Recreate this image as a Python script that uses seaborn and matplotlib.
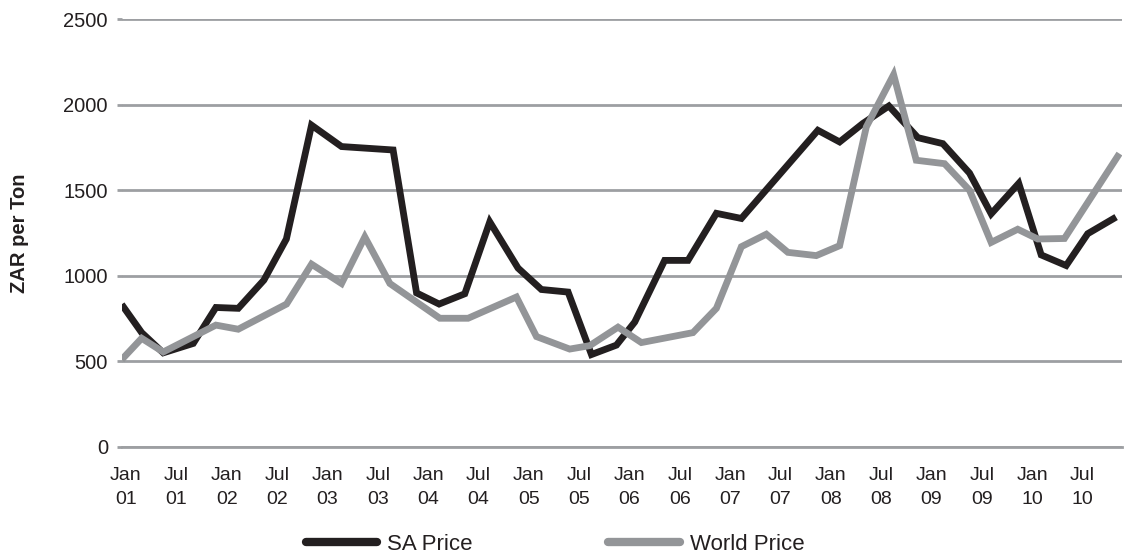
import matplotlib
matplotlib.use("Agg")
import matplotlib.pyplot as plt
from matplotlib.lines import Line2D
import numpy as np
import pandas as pd
import seaborn as sns

# Observation dates (decimal years) and prices, ZAR per ton
sa_dates = [2000.957, 2001.156, 2001.370, 2001.668, 2001.893, 2002.115, 2002.370,
            2002.593, 2002.843, 2003.141, 2003.653, 2003.886, 2004.110, 2004.365,
            2004.613, 2004.894, 2005.126, 2005.391, 2005.623, 2005.871, 2006.053,
            2006.350, 2006.582, 2006.864, 2007.112, 2007.872, 2008.088, 2008.319,
            2008.577, 2008.865, 2009.113, 2009.378, 2009.593, 2009.867, 2010.090,
            2010.338, 2010.552, 2010.834]
sa_price = [833, 668, 550, 605, 815, 810, 975, 1215, 1880, 1755, 1735, 900, 835, 895,
            1315, 1045, 920, 905, 540, 595, 730, 1090, 1090, 1365, 1335, 1850, 1782,
            1890, 1992, 1807, 1772, 1600, 1362, 1540, 1122, 1060, 1246, 1343]

world_dates = [2000.957, 2001.156, 2001.370, 2001.893, 2002.115, 2002.595, 2002.843,
               2003.141, 2003.372, 2003.621, 2004.117, 2004.398, 2004.878, 2005.077,
               2005.407, 2005.606, 2005.887, 2006.119, 2006.631, 2006.864, 2007.112,
               2007.360, 2007.574, 2007.856, 2008.088, 2008.353, 2008.624, 2008.849,
               2009.130, 2009.378, 2009.593, 2009.857, 2010.056, 2010.321, 2010.867]
world_price = [510, 635, 555, 712, 688, 835, 1068, 955, 1227, 955, 752, 752, 876, 645,
               572, 592, 700, 610, 668, 810, 1170, 1243, 1137, 1118, 1176, 1870, 2175,
               1675, 1655, 1500, 1195, 1272, 1215, 1218, 1714]

series_names = ["SA Price", "World Price"]
series_colors = ["#231f20", "#939598"]

tick_years = [2001 + 0.5 * i for i in range(20)]
tick_labels = [("Jan" if i % 2 == 0 else "Jul") + "\n" + f"{1 + i // 2:02d}" for i in range(20)]
y_ticks = [0, 500, 1000, 1500, 2000, 2500]

df = pd.concat([
    pd.DataFrame({"date": sa_dates, "price": sa_price, "series": series_names[0]}),
    pd.DataFrame({"date": world_dates, "price": world_price, "series": series_names[1]}),
], ignore_index=True)

sns.set_theme(style="white")
plt.rcParams["font.family"] = ["Liberation Sans", "DejaVu Sans"]
text_color = "#231f20"
grid_color = "#9d9fa2"

fig = plt.figure(figsize=(11.24, 5.53), dpi=100)
ax = fig.add_axes([0.1085, 0.1917, 0.8895, 0.7739])

sns.lineplot(data=df, x="date", y="price", hue="series", hue_order=series_names,
             palette=series_colors, sort=False, estimator=None, linewidth=4.9,
             legend=False, ax=ax, zorder=3)
for line in ax.lines:
    line.set_solid_joinstyle("miter")
    line.set_solid_capstyle("butt")

ax.set_xlim(2000.96, 2010.89)
ax.set_ylim(0, 2500)
ax.set_yticks(y_ticks)
ax.set_yticklabels([str(v) for v in y_ticks])
ax.set_xticks(tick_years)
ax.set_xticklabels(tick_labels, linespacing=1.5)

ax.yaxis.grid(True, color=grid_color, linewidth=2.0)
ax.set_axisbelow(True)
for side in ["top", "right", "left"]:
    ax.spines[side].set_visible(False)
ax.spines["bottom"].set_color(grid_color)
ax.spines["bottom"].set_linewidth(2.0)
ax.spines["bottom"].set_zorder(1)

ax.tick_params(axis="y", which="major", length=3.6, width=2.0, color=grid_color,
               pad=6.5, labelsize=14.5, labelcolor=text_color, left=True)
ax.tick_params(axis="x", which="major", length=0, pad=14.5, labelsize=14,
               labelcolor=text_color)

ax.set_xlabel("")
ax.set_ylabel("ZAR per Ton", fontsize=14.5, color=text_color, fontweight="bold",
              labelpad=25)

handles = [Line2D([0], [0], color=c, linewidth=6.0, solid_capstyle="round")
           for c in series_colors]
fig.legend(handles, series_names, loc="center", bbox_to_anchor=(0.494, 0.015),
           ncol=2, frameon=False, fontsize=16, handlelength=3.2, handletextpad=0.45,
           columnspacing=6.1, labelcolor=text_color, borderpad=0.2)

fig.savefig("out.png", dpi=100, facecolor="white")
